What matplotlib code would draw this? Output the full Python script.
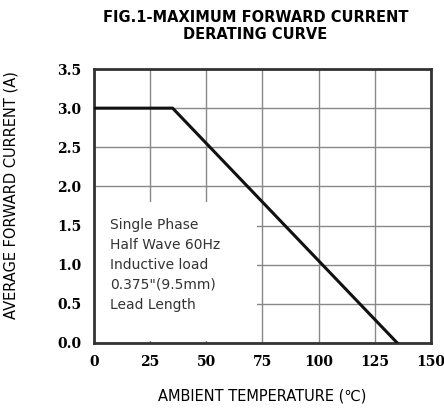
import matplotlib
matplotlib.use('Agg')
import matplotlib.pyplot as plt
from matplotlib.patches import Rectangle

# derating curve (ambient temperature in C, average forward current in A)
temp = [0, 35, 135]
current = [3.0, 3.0, 0.0]

x_ticks = [0, 25, 50, 75, 100, 125, 150]
y_ticks = [0.0, 0.5, 1.0, 1.5, 2.0, 2.5, 3.0, 3.5]

note_lines = ['Single Phase', 'Half Wave 60Hz', 'Inductive load',
              '0.375"(9.5mm)', 'Lead Length']


def main():
    fig = plt.figure(figsize=(4.44, 4.12), dpi=100)
    ax = fig.add_axes([0.2117, 0.1675, 0.7590, 0.6650])

    ax.set_xlim(0, 150)
    ax.set_ylim(0, 3.5)
    ax.set_xticks(x_ticks)
    ax.set_yticks(y_ticks)
    ax.set_xticklabels([str(t) for t in x_ticks], fontweight='bold',
                       fontsize=10, family='DejaVu Serif')
    ax.set_yticklabels(['%.1f' % t for t in y_ticks], fontweight='bold',
                       fontsize=10, family='DejaVu Serif')
    ax.tick_params(length=0, pad=9)

    ax.grid(True, color='#888888', linewidth=1.0, zorder=0)
    ax.set_axisbelow(True)
    for s in ax.spines.values():
        s.set_linewidth(2.0)
        s.set_color('#333333')

    # white box behind the note hides the grid
    ax.add_patch(Rectangle((0.5, 0.02), 72, 1.78, facecolor='white',
                           edgecolor='none', zorder=1))

    ax.plot(temp, current, color='#111111', linewidth=2.2, zorder=3)

    ax.text(7, 1.6, '\n'.join(note_lines), fontsize=10, va='top', ha='left',
            linespacing=1.55, color='#333333', zorder=4)

    ax.set_xlabel('AMBIENT TEMPERATURE (\u2103)', fontsize=10.5, labelpad=14)
    ax.set_ylabel('AVERAGE FORWARD CURRENT (A)', fontsize=10.5)
    ax.yaxis.set_label_coords(-0.225, 0.54)

    fig.text(0.575, 0.975, 'FIG.1-MAXIMUM FORWARD CURRENT\nDERATING CURVE',
             ha='center', va='top', fontsize=10.5, fontweight='bold',
             linespacing=1.15)

    fig.savefig('out.png', dpi=100)


if __name__ == '__main__':
    main()
